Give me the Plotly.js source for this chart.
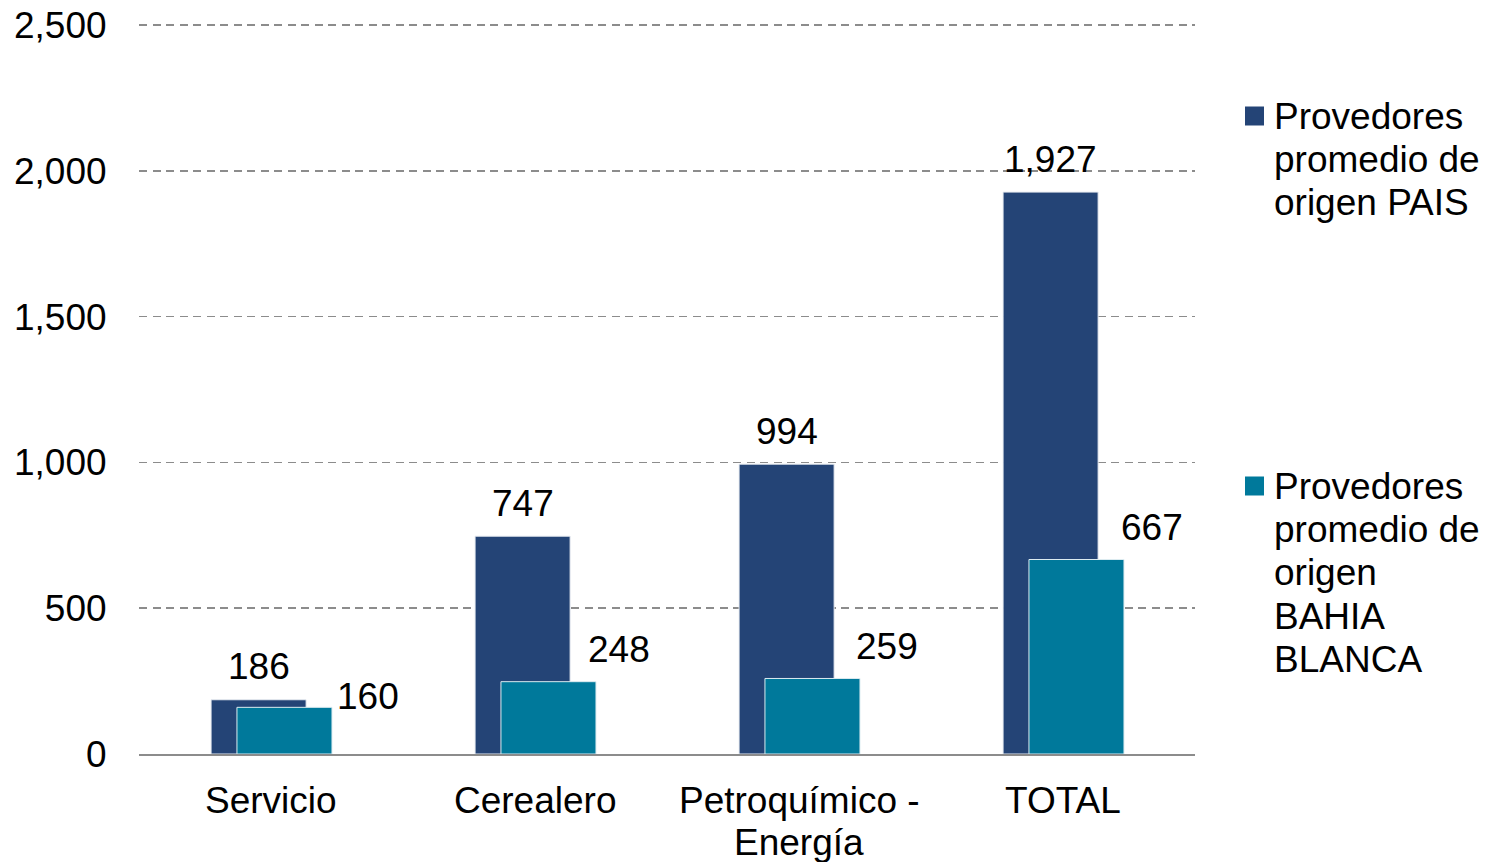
<!DOCTYPE html>
<html>
<head>
<meta charset="utf-8">
<script src="https://cdn.plot.ly/plotly-3.0.1.min.js"></script>
<style>html,body{margin:0;padding:0;background:#fff;}#chart{width:1491px;height:862px;}</style>
</head>
<body>
<div id="chart"></div>
<script>
const categories = ["Servicio", "Cerealero", "Petroquímico -<br>Energía", "TOTAL"];
const paisValues = [186, 747, 994, 1927];
const bahiaValues = [160, 248, 259, 667];
const seriesNames = ["Provedores<br>promedio de<br>origen PAIS", "Provedores<br>promedio de<br>origen<br>BAHIA<br>BLANCA"];
const seriesColors = ["#244476", "#00799b"];
const yTickVals = [0, 500, 1000, 1500, 2000, 2500];

const FONT = "Liberation Sans, Arial, sans-serif";
const FS = 37;
const LINE = 43.4;
const TOP = 22; // top margin in px (plot top)
const fmt = v => v.toLocaleString("en-US");

const traces = [
  {type: "bar", x: categories, y: paisValues, name: seriesNames[0],
   width: 0.36, offset: -0.227,
   marker: {color: seriesColors[0], line: {color: "#e8ecf2", width: 1}},
   showlegend: false, hoverinfo: "skip"},
  {type: "bar", x: categories, y: bahiaValues, name: seriesNames[1],
   width: 0.36, offset: -0.129,
   marker: {color: seriesColors[1], line: {color: "#dcebf0", width: 1}},
   showlegend: false, hoverinfo: "skip"}
];

const paisShiftX = [-12.5, -12.5, -12.5, -12.5];
const paisShiftY = [33, 33, 33, 33];
const bahiaShiftX = [97, 84, 88, 89];
const bahiaShiftY = [11, 32, 32, 32];

const annotations = [];
const shapes = [];
const txtFont = {family: FONT, size: FS, color: "#000"};

categories.forEach((c, i) => {
  annotations.push({x: c, y: paisValues[i], xref: "x", yref: "y", text: fmt(paisValues[i]),
    showarrow: false, xanchor: "center", yanchor: "middle",
    xshift: paisShiftX[i], yshift: paisShiftY[i], font: txtFont});
  annotations.push({x: c, y: bahiaValues[i], xref: "x", yref: "y", text: fmt(bahiaValues[i]),
    showarrow: false, xanchor: "center", yanchor: "middle",
    xshift: bahiaShiftX[i], yshift: bahiaShiftY[i], font: txtFont});
  // category (x-axis) labels, one annotation per line
  c.split("<br>").forEach((line, j) => {
    annotations.push({x: c, y: 0, xref: "x", yref: "paper", text: line,
      showarrow: false, xanchor: "center", yanchor: "middle",
      yshift: -(46 + j * 42), font: txtFont});
  });
});

// custom legend (paper y=1 at TOP px; paper x=1 at 1195px)
const legendTopPx = [116, 486];
seriesNames.forEach((name, k) => {
  const top = legendTopPx[k];
  shapes.push({type: "rect", xref: "paper", yref: "paper",
    xsizemode: "pixel", ysizemode: "pixel", xanchor: 1, yanchor: 1,
    x0: 50, x1: 69, y0: -(top - 9.5 - TOP), y1: -(top + 9.5 - TOP),
    fillcolor: seriesColors[k], line: {width: 0}});
  name.split("<br>").forEach((line, j) => {
    annotations.push({x: 1, y: 1, xref: "paper", yref: "paper", text: line,
      showarrow: false, xanchor: "left", yanchor: "middle",
      xshift: 77, yshift: -(top + j * LINE - TOP), font: txtFont});
  });
});

const layout = {
  width: 1491, height: 862,
  margin: {l: 139, r: 296, t: TOP, b: 108, pad: 0},
  paper_bgcolor: "#fff", plot_bgcolor: "#fff",
  font: txtFont,
  barmode: "overlay",
  showlegend: false,
  xaxis: {type: "category", showgrid: false, zeroline: false,
    showline: true, linecolor: "#8c8c8c", linewidth: 2,
    showticklabels: false, ticks: "", fixedrange: true},
  yaxis: {range: [0, 2510.3], tickvals: yTickVals, tickformat: ",d",
    showgrid: true, gridcolor: "#8c8c8c", griddash: "8px,5.5px", gridwidth: 1.5,
    zeroline: false, showline: false,
    ticks: "outside", ticklen: 24, tickcolor: "rgba(0,0,0,0)",
    tickfont: txtFont, fixedrange: true},
  annotations: annotations,
  shapes: shapes
};

Plotly.newPlot("chart", traces, layout, {displayModeBar: false, staticPlot: true});
</script>
</body>
</html>
